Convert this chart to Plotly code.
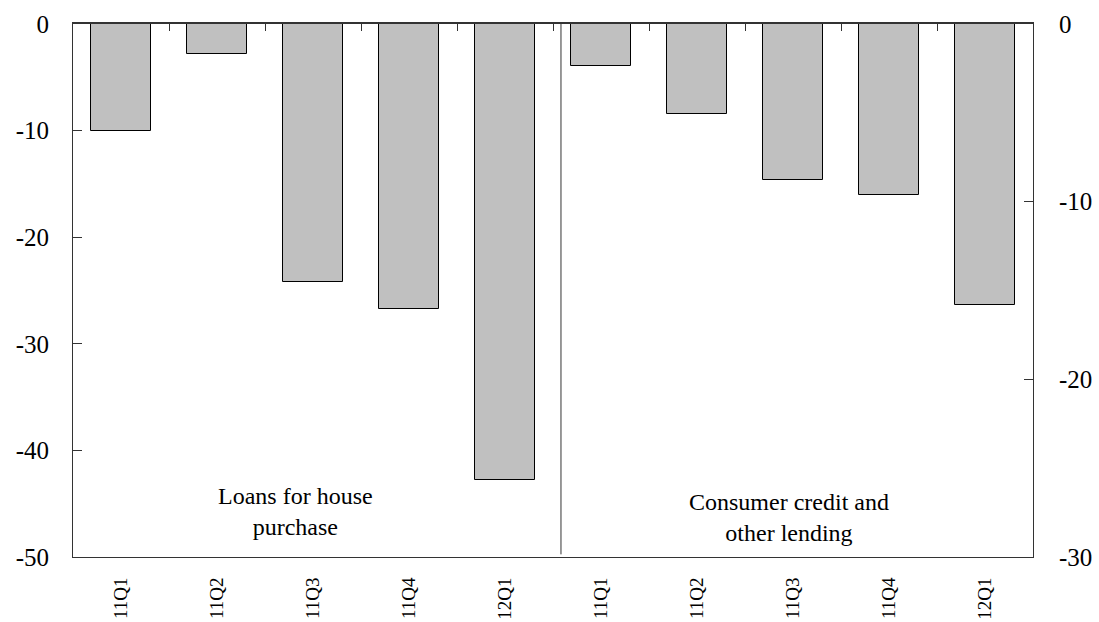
import plotly.graph_objects as go

categories = ["11Q1", "11Q2", "11Q3", "11Q4", "12Q1"]
house_values = [-10.0, -2.8, -24.2, -26.7, -42.8]
consumer_values = [-2.35, -5.05, -8.8, -9.6, -15.8]
left_ticks = [0, -10, -20, -30, -40, -50]
right_ticks = [0, -10, -20, -30]

n = len(categories)
x_left = list(range(n))
x_right = list(range(n, 2 * n))
all_labels = categories + categories

FONT = "'Times New Roman', 'Liberation Serif', 'DejaVu Serif', serif"
LINE = "#333333"

fig = go.Figure()
fig.add_trace(go.Bar(
    x=x_left, y=house_values, xaxis="x", yaxis="y",
    marker=dict(color="#c0c0c0", line=dict(color="black", width=1)),
    width=0.625, showlegend=False,
))
fig.add_trace(go.Bar(
    x=x_right, y=consumer_values, xaxis="x", yaxis="y2",
    marker=dict(color="#c0c0c0", line=dict(color="black", width=1)),
    width=0.625, showlegend=False,
))
fig.add_trace(go.Scatter(x=[0], y=[None], xaxis="x2", yaxis="y",
                         showlegend=False, hoverinfo="skip"))

fig.update_layout(
    width=1099, height=622,
    margin=dict(l=73, r=66, t=24, b=65),
    plot_bgcolor="white", paper_bgcolor="white",
    font=dict(family=FONT, color="black"),
    bargap=0,
    xaxis=dict(
        range=[-0.5, 2 * n - 0.5], automargin=False,
        tickvals=x_left + x_right, ticktext=all_labels,
        tickangle=-90, ticks="", showline=True, linecolor=LINE, linewidth=1,
        showgrid=False, zeroline=False, tickfont=dict(size=19, family="serif"),
        ticklabelstandoff=12,
    ),
    xaxis2=dict(
        range=[-0.5, 2 * n - 0.5], overlaying="x", side="top", anchor="y",
        automargin=False,
        tickvals=[i + 0.5 for i in range(2 * n - 1)],
        ticks="inside", ticklen=7, tickcolor=LINE, showticklabels=False,
        showline=True, linecolor=LINE, linewidth=1.5, showgrid=False, zeroline=False,
    ),
    yaxis=dict(
        range=[-50, 0], tickvals=left_ticks, ticktext=[str(v) for v in left_ticks],
        automargin=False,
        ticks="inside", ticklen=9, tickcolor=LINE, showline=True, linecolor=LINE,
        linewidth=1, showgrid=False, zeroline=False,
        tickfont=dict(size=25, family="Liberation Serif"), ticklabelstandoff=18,
    ),
    yaxis2=dict(
        range=[-30, 0], tickvals=right_ticks, ticktext=[str(v) for v in right_ticks],
        overlaying="y", side="right", anchor="x", automargin=False,
        ticks="inside", ticklen=9, tickcolor=LINE, showline=True, linecolor=LINE,
        linewidth=1, showgrid=False, zeroline=False,
        tickfont=dict(size=25, family="Times New Roman"), ticklabelstandoff=20,
    ),
    shapes=[dict(type="line", xref="x", yref="paper", x0=n - 0.417, x1=n - 0.417,
                 y0=0.005, y1=1, line=dict(color=LINE, width=1))],
    annotations=[
        dict(text="Loans for house<br>purchase", xref="paper", yref="paper",
             x=0.232, y=0.086, showarrow=False, font=dict(size=24, family=FONT),
             xanchor="center", yanchor="middle"),
        dict(text="Consumer credit and<br>other lending", xref="paper", yref="paper",
             x=0.746, y=0.075, showarrow=False, font=dict(size=24, family=FONT),
             xanchor="center", yanchor="middle"),
    ],
)

fig.write_html("out.html", config={"displayModeBar": False},
               post_script="document.body.style.margin='0';document.body.style.padding='0';")
